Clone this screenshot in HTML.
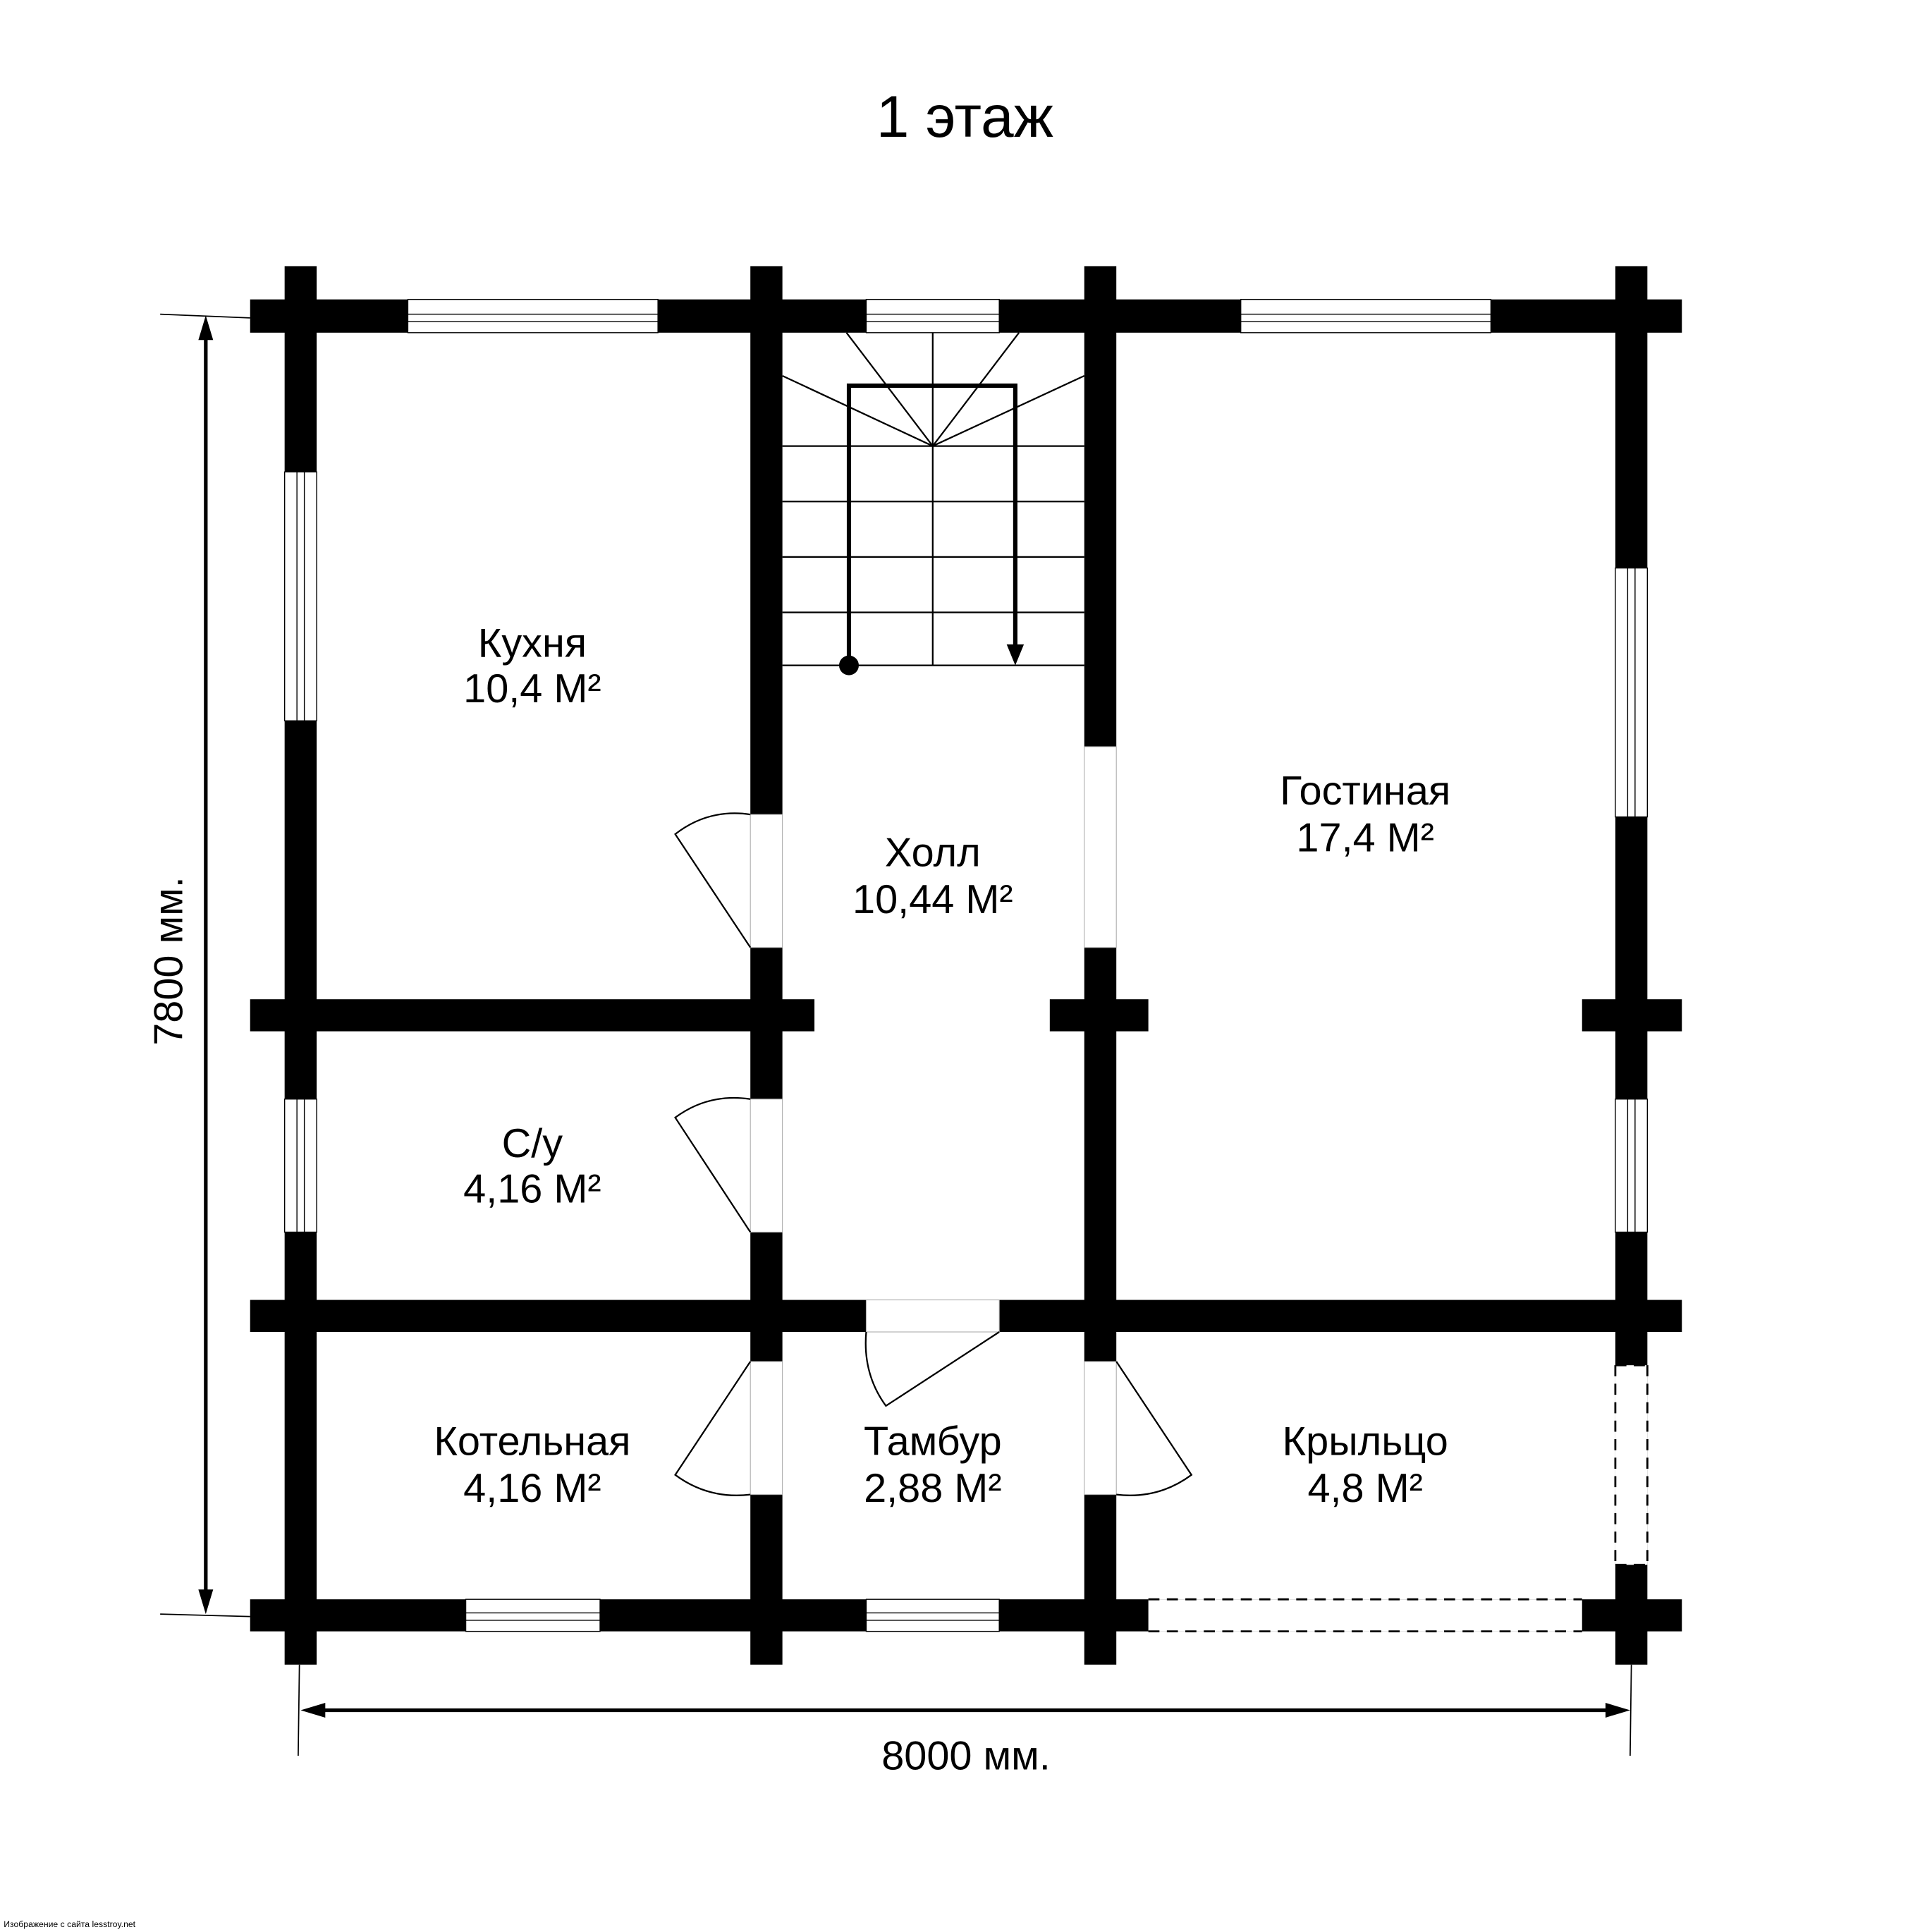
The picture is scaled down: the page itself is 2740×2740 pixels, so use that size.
<!DOCTYPE html>
<html><head><meta charset="utf-8"><style>
html,body{margin:0;padding:0;background:#fff;}
svg{display:block;}
text{font-family:"Liberation Sans","DejaVu Sans",sans-serif;fill:#000;}
</style></head><body>
<svg width="2740" height="2740" viewBox="0 0 1568 1568" xmlns="http://www.w3.org/2000/svg">
<rect width="1568" height="1568" fill="#fff"/>
<text x="783" y="111" font-size="48" text-anchor="middle">1 этаж</text>
<g fill="#000">
<rect x="231" y="216" width="26" height="1135"/>
<rect x="609" y="216" width="26" height="1135"/>
<rect x="880" y="216" width="26" height="1135"/>
<rect x="1311" y="216" width="26" height="1135"/>
<rect x="203" y="243" width="1162" height="27"/>
<rect x="203" y="811" width="458" height="26"/>
<rect x="852" y="811" width="80" height="26"/>
<rect x="1284" y="811" width="81" height="26"/>
<rect x="203" y="1055" width="1162" height="26"/>
<rect x="203" y="1298" width="1162" height="26"/>
</g>
<g fill="#fff" stroke="#000" stroke-width="0.8">
<rect x="331" y="243" width="203" height="27"/><line x1="331" y1="255" x2="534" y2="255"/><line x1="331" y1="261" x2="534" y2="261"/>
<rect x="703" y="243" width="108" height="27"/><line x1="703" y1="255" x2="811" y2="255"/><line x1="703" y1="261" x2="811" y2="261"/>
<rect x="1007" y="243" width="203" height="27"/><line x1="1007" y1="255" x2="1210" y2="255"/><line x1="1007" y1="261" x2="1210" y2="261"/>
<rect x="378" y="1298" width="109" height="26"/><line x1="378" y1="1309" x2="487" y2="1309"/><line x1="378" y1="1315" x2="487" y2="1315"/>
<rect x="703" y="1298" width="108" height="26"/><line x1="703" y1="1309" x2="811" y2="1309"/><line x1="703" y1="1315" x2="811" y2="1315"/>
<rect x="231" y="383" width="26" height="202"/><line x1="241" y1="383" x2="241" y2="585"/><line x1="247" y1="383" x2="247" y2="585"/>
<rect x="231" y="892" width="26" height="108"/><line x1="241" y1="892" x2="241" y2="1000"/><line x1="247" y1="892" x2="247" y2="1000"/>
<rect x="1311" y="461" width="26" height="202"/><line x1="1321" y1="461" x2="1321" y2="663"/><line x1="1327" y1="461" x2="1327" y2="663"/>
<rect x="1311" y="892" width="26" height="108"/><line x1="1321" y1="892" x2="1321" y2="1000"/><line x1="1327" y1="892" x2="1327" y2="1000"/>
</g>
<g fill="#fff" stroke="#aaa" stroke-width="0.6">
<rect x="609" y="661" width="26" height="108"/>
<rect x="609" y="892" width="26" height="108"/>
<rect x="609" y="1105" width="26" height="108"/>
<rect x="880" y="606" width="26" height="163"/>
<rect x="880" y="1105" width="26" height="108"/>
<rect x="703" y="1055" width="108" height="26"/>
</g>
<rect x="932" y="1298" width="352" height="26" fill="#fff"/>
<rect x="1311" y="1108" width="26" height="162" fill="#fff"/>
<g fill="none" stroke="#000" stroke-width="1.6" stroke-dasharray="9,6">
<line x1="932" y1="1298" x2="1284" y2="1298"/><line x1="932" y1="1324" x2="1284" y2="1324"/>
<line x1="1311" y1="1108" x2="1311" y2="1270"/><line x1="1337" y1="1108" x2="1337" y2="1270"/>
<line x1="1311" y1="1108" x2="1337" y2="1108"/><line x1="1311" y1="1270" x2="1337" y2="1270"/>
</g>
<g fill="none" stroke="#000" stroke-width="1.3">
<path d="M609 769 L548 677 Q575 656 609 661"/>
<path d="M609 1000 L548 907 Q575 887 609 892"/>
<path d="M609 1105 L548 1197 Q575 1217 609 1213"/>
<path d="M906 1105 L967 1197 Q940 1217 906 1213"/>
<path d="M811 1081 L719 1141 Q700 1115 703 1081"/>
</g>
<g fill="none" stroke="#000" stroke-width="1.3">
<line x1="635" y1="362" x2="880" y2="362"/>
<line x1="635" y1="407" x2="880" y2="407"/>
<line x1="635" y1="452" x2="880" y2="452"/>
<line x1="635" y1="497" x2="880" y2="497"/>
<line x1="635" y1="540" x2="880" y2="540"/>
<line x1="757" y1="270" x2="757" y2="540"/>
<line x1="757" y1="362" x2="635" y2="305"/>
<line x1="757" y1="362" x2="687" y2="270"/>
<line x1="757" y1="362" x2="827" y2="270"/>
<line x1="757" y1="362" x2="880" y2="305"/>
</g>
<path d="M689 540 V313 H824 V525" fill="none" stroke="#000" stroke-width="3.5"/>
<polygon points="817,523 831,523 824,540" fill="#000"/>
<circle cx="689" cy="540" r="8" fill="#000"/>
<g stroke="#000" fill="none">
<line x1="130" y1="255" x2="203" y2="258" stroke-width="1"/>
<line x1="130" y1="1310" x2="203" y2="1312" stroke-width="1"/>
<line x1="167" y1="266" x2="167" y2="1300" stroke-width="3"/>
<line x1="243" y1="1351" x2="242" y2="1425" stroke-width="1"/>
<line x1="1324" y1="1351" x2="1323" y2="1425" stroke-width="1"/>
<line x1="254" y1="1388" x2="1313" y2="1388" stroke-width="3"/>
</g>
<g fill="#000">
<polygon points="167,256 161,276 173,276"/>
<polygon points="167,1310 161,1290 173,1290"/>
<polygon points="244,1388 264,1382 264,1394"/>
<polygon points="1323,1388 1303,1382 1303,1394"/>
</g>
<text x="784" y="1436" font-size="33" text-anchor="middle">8000 мм.</text>
<text transform="translate(148,780) rotate(-90)" font-size="33" text-anchor="middle">7800 мм.</text>
<g font-size="33" text-anchor="middle">
<text x="432" y="533">Кухня</text><text x="432" y="570">10,4 М²</text>
<text x="757" y="703">Холл</text><text x="757" y="741">10,44 М²</text>
<text x="1108" y="653">Гостиная</text><text x="1108" y="691">17,4 М²</text>
<text x="432" y="939">С/у</text><text x="432" y="976">4,16 М²</text>
<text x="432" y="1181">Котельная</text><text x="432" y="1219">4,16 М²</text>
<text x="757" y="1181">Тамбур</text><text x="757" y="1219">2,88 М²</text>
<text x="1108" y="1181">Крыльцо</text><text x="1108" y="1219">4,8 М²</text>
</g>
<text x="3" y="1564" font-size="7" fill="#333">Изображение с сайта lesstroy.net</text>
</svg>
</body></html>
